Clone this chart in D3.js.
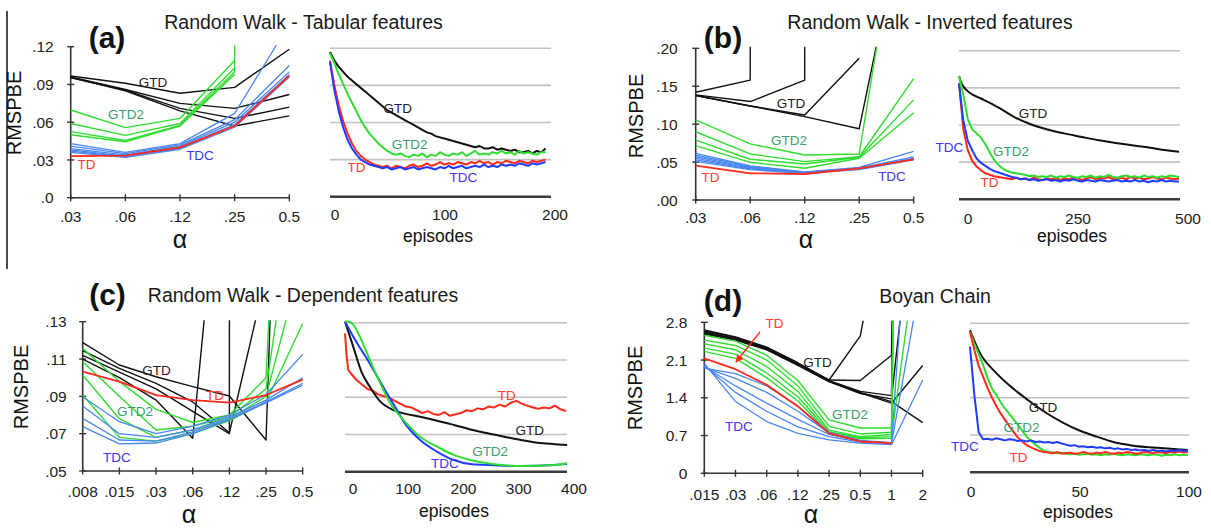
<!DOCTYPE html>
<html><head><meta charset="utf-8">
<script src="https://cdn.jsdelivr.net/npm/d3@7"></script>
<style>
html,body{margin:0;padding:0;background:#fff;}
svg{display:block;font-family:"Liberation Sans",Arial,Helvetica,sans-serif;}
</style></head><body>
<svg id="chart" width="1211" height="528"></svg>
<script>
// ================= DATA =================
// (a) Random Walk - Tabular features
const alphasA = [".03", ".06", ".12", ".25", "0.5"];
const yTicksA = [0, 0.03, 0.06, 0.09, 0.12];
const yTickLabelsA = [".0", ".03", ".06", ".09", ".12"];
const aGTD = [
  [0.0967, 0.091, 0.083, 0.0877, 0.118],
  [0.096, 0.086, 0.075, 0.071, 0.082],
  [0.0955, 0.0855, 0.071, 0.063, 0.072],
  [0.0955, 0.085, 0.069, 0.057, 0.065]
];
const aGTD2 = [
  [0.0697, 0.0557, 0.063, 0.109, null],
  [0.059, 0.0495, 0.059, 0.103, null],
  [0.0525, 0.0455, 0.0575, 0.100, 40],
  [0.050, 0.0445, 0.057, 0.098, null]
];
const aTDC = [
  [0.043, 0.036, 0.043, 0.067, 0.138],
  [0.041, 0.035, 0.042, 0.062, 0.105],
  [0.039, 0.034, 0.041, 0.060, 0.100],
  [0.038, 0.033, 0.040, 0.058, 0.098],
  [0.037, 0.0325, 0.039, 0.057, 0.097],
  [0.036, 0.032, 0.0385, 0.056, 0.096]
];
const aTD = [[0.033, 0.0335, 0.040, 0.057, 0.097]];

const epTicksA = [0, 100, 200];
const epsA = d3.range(0, 200, 4);
const aCurveGTD = [0.117,0.110,0.105,0.101,0.097,0.094,0.091,0.088,0.085,0.082,
  0.079,0.076,0.073,0.070,0.068,0.066,0.064,0.062,0.060,0.058,
  0.056,0.054,0.052,0.051,0.049,0.048,0.047,0.046,0.045,0.044,
  0.043,0.042,0.041,0.040,0.041,0.039,0.039,0.040,0.038,0.039,
  0.038,0.037,0.038,0.036,0.036,0.037,0.035,0.037,0.036,0.039];
const aCurveGTD2 = [0.116,0.108,0.099,0.091,0.083,0.076,0.069,0.062,0.056,0.051,
  0.047,0.043,0.040,0.037,0.035,0.034,0.035,0.033,0.032,0.034,
  0.033,0.035,0.032,0.034,0.033,0.036,0.034,0.033,0.035,0.034,
  0.036,0.033,0.035,0.037,0.034,0.035,0.034,0.036,0.035,0.037,
  0.035,0.036,0.034,0.037,0.035,0.036,0.035,0.034,0.036,0.036];
const aCurveTD = [0.110,0.090,0.074,0.061,0.051,0.043,0.037,0.033,0.030,0.028,
  0.026,0.025,0.024,0.025,0.023,0.025,0.024,0.023,0.025,0.026,
  0.024,0.025,0.027,0.025,0.026,0.028,0.026,0.027,0.026,0.028,
  0.027,0.026,0.028,0.027,0.029,0.027,0.028,0.026,0.028,0.027,
  0.029,0.028,0.027,0.029,0.028,0.027,0.029,0.028,0.029,0.030];
const aCurveTDC = [0.109,0.086,0.069,0.056,0.046,0.039,0.034,0.030,0.028,0.026,
  0.025,0.024,0.023,0.024,0.022,0.023,0.024,0.022,0.023,0.024,
  0.022,0.023,0.024,0.023,0.022,0.024,0.023,0.025,0.023,0.024,
  0.025,0.023,0.024,0.025,0.024,0.026,0.024,0.025,0.024,0.026,
  0.025,0.026,0.025,0.027,0.026,0.025,0.027,0.026,0.027,0.028];

// (b) Random Walk - Inverted features
const alphasB = [".03", ".06", ".12", ".25", "0.5"];
const yTicksB = [0, 0.05, 0.10, 0.15, 0.20];
const yTickLabelsB = [".00", ".05", ".10", ".15", ".20"];
const bGTD = [
  [0.142, 0.158, 50, null, null],
  [0.1386, 0.1298, 0.158, 50, null],
  [0.1377, 0.124, 0.112, 0.187, null],
  [0.1377, 0.124, 0.110, 0.094, 0.44]
];
const bGTD2 = [
  [0.1056, 0.074, 0.0594, 0.0607, 0.50],
  [0.090, 0.0607, 0.0506, 0.057, 0.16],
  [0.079, 0.0537, 0.0475, 0.0563, 0.132],
  [0.0717, 0.0497, 0.0418, 0.055, 0.115]
];
const bTDC = [
  [0.0616, 0.045, 0.037, 0.043, 0.064],
  [0.059, 0.044, 0.0365, 0.042, 0.057],
  [0.057, 0.043, 0.036, 0.042, 0.055],
  [0.055, 0.042, 0.0355, 0.041, 0.054],
  [0.053, 0.041, 0.035, 0.041, 0.0535],
  [0.051, 0.040, 0.035, 0.040, 0.053]
];
const bTD = [[0.0453, 0.0352, 0.0343, 0.0418, 0.0537]];

const epTicksB = [0, 250, 500];
const epsB = d3.range(0, 501, 10);
const bCurveGTDeps = [0, 5, 11, 25, 49, 87, 125, 163, 201, 239, 277, 315, 352, 390, 428, 466, 500];
const bCurveGTD = [0.166, 0.157, 0.151, 0.143, 0.136, 0.1245, 0.111, 0.101, 0.094, 0.0887, 0.0842, 0.0797, 0.0762, 0.073, 0.070, 0.0663, 0.064];
const bCurveGTD2 = [0.166,0.140,0.108,0.094,0.089,0.083,0.074,0.063,0.053,0.046,
  0.041,0.038,0.036,0.035,0.034,0.033,0.031,0.032,0.030,0.031,
  0.030,0.032,0.029,0.031,0.030,0.032,0.030,0.029,0.031,0.030,
  0.032,0.029,0.031,0.030,0.033,0.030,0.029,0.031,0.032,0.030,
  0.031,0.029,0.032,0.030,0.031,0.029,0.031,0.030,0.032,0.031,0.030];
const bCurveTD = [0.156,0.094,0.066,0.052,0.044,0.039,0.035,0.033,0.031,0.030,
  0.029,0.028,0.027,0.029,0.027,0.028,0.026,0.029,0.027,0.026,
  0.028,0.027,0.029,0.026,0.028,0.027,0.029,0.028,0.026,0.028,
  0.030,0.027,0.029,0.028,0.030,0.027,0.028,0.029,0.027,0.030,
  0.028,0.029,0.027,0.028,0.030,0.028,0.027,0.029,0.028,0.027,0.028];
const bCurveTDC = [0.156,0.105,0.079,0.066,0.055,0.049,0.045,0.041,0.038,0.036,
  0.034,0.032,0.030,0.029,0.027,0.028,0.026,0.027,0.025,0.026,
  0.027,0.025,0.026,0.024,0.026,0.025,0.027,0.025,0.024,0.026,
  0.025,0.024,0.026,0.025,0.024,0.025,0.026,0.024,0.025,0.024,
  0.026,0.024,0.025,0.023,0.025,0.024,0.026,0.024,0.025,0.024,0.024];

// (c) Random Walk - Dependent features
const alphasC = [".008", ".015", ".03", ".06", ".12", ".25", "0.5"];
const yTicksC = [0.05, 0.07, 0.09, 0.11, 0.13];
const yTickLabelsC = [".05", ".07", ".09", ".11", ".13"];
const cGTD = [
  [0.110, 0.100, 0.088, 0.0675, 0.27, null, null],
  [0.112, 0.103, 0.094, 0.082, 0.070, 50, null],
  [0.1145, 0.105, 0.097, 0.087, 0.0705, 0.155, null],
  [0.1188, 0.1068, 0.1005, 0.0952, 0.0902, 0.0666, 0.65]
];
const cGTD2 = [
  [0.1157, 0.098, 0.083, 0.076, 0.080, 0.100, 0.50],
  [0.1086, 0.090, 0.072, 0.074, 0.079, 0.094, 0.227],
  [0.1014, 0.078, 0.068, 0.072, 0.078, 0.090, 0.165],
  [0.0907, 0.068, 0.066, 0.070, 0.077, 0.087, 0.129]
];
const cTDC = [
  [0.0898, 0.0764, 0.0700, 0.074, 0.080, 0.091, 0.1125],
  [0.0848, 0.0700, 0.0680, 0.072, 0.079, 0.088, 0.100],
  [0.0782, 0.0666, 0.0660, 0.071, 0.078, 0.087, 0.097],
  [0.0738, 0.0645, 0.0650, 0.070, 0.0775, 0.0865, 0.096]
];
const cTD = [[0.1032, 0.0979, 0.0907, 0.088, 0.0866, 0.0907, 0.099]];

const epTicksC = [0, 100, 200, 300, 400];
const cCurveGTDeps = [0, 15, 30, 45, 64, 88, 106, 136, 167, 197, 227, 258, 288, 318, 348, 379, 402];
const cCurveGTD = [0.1306, 0.117, 0.1035, 0.0956, 0.0876, 0.0831, 0.0813, 0.0795, 0.0774, 0.0751, 0.0727, 0.0706, 0.0688, 0.067, 0.0656, 0.0648, 0.0643];
const cCurveTDCeps = [0, 15, 45, 76, 94, 106, 136, 167, 197, 227, 258, 288, 318, 379, 402];
const cCurveTDC = [0.1306, 0.1225, 0.108, 0.092, 0.0831, 0.077, 0.067, 0.0607, 0.0563, 0.0541, 0.0536, 0.0532, 0.053, 0.0536, 0.0541];
const cCurveGTD2eps = [0, 5, 15, 27, 45, 64, 82, 106, 136, 167, 197, 227, 258, 288, 318, 379, 402];
const cCurveGTD2 = [0.1306, 0.1306, 0.1290, 0.1225, 0.110, 0.0974, 0.0867, 0.0777, 0.0688, 0.0634, 0.059, 0.0563, 0.0545, 0.0534, 0.053, 0.0536, 0.0545];
const cCurveTDeps = [0, 3, 6].concat(d3.range(10, 401, 10));
const cCurveTD = [0.1243, 0.112, 0.1046,
  0.1030,0.0995,0.0970,0.0945,0.0935,0.0915,0.0905,0.0898,0.0880,0.0865,
  0.0850,0.0845,0.0830,0.0815,0.0825,0.0810,0.0805,0.0820,0.0800,0.0808,
  0.0815,0.0830,0.0825,0.0840,0.0835,0.0850,0.0845,0.0860,0.0850,0.0870,
  0.0880,0.0865,0.0855,0.0845,0.0838,0.0845,0.0840,0.0855,0.0835,0.0825];

// (d) Boyan Chain
const alphasD = [".015", ".03", ".06", ".12", ".25", "0.5", "1", "2"];
const yTicksD = [0, 0.7, 1.4, 2.1, 2.8];
const yTickLabelsD = ["0", "0.7", "1.4", "2.1", "2.8"];
const dGTD = [
  [2.66, 2.53, 2.34, 2.05, 1.73, 2.55, 5.6, null],
  [2.64, 2.52, 2.33, 2.04, 1.73, 1.72, 2.19, 40],
  [2.62, 2.50, 2.32, 2.03, 1.72, 1.52, 1.44, 40],
  [2.61, 2.49, 2.31, 2.02, 1.71, 1.50, 1.33, 0.94],
  [2.60, 2.48, 2.30, 2.01, 1.70, 1.49, 1.30, 2.0],
  [2.58, 2.47, 2.29, 2.00, 1.70, 1.48, 1.38, 6.7]
];
const dGTD2 = [
  [2.56, 2.45, 2.19, 1.72, 0.99, 0.84, 0.84, 40],
  [2.47, 2.37, 2.10, 1.62, 0.87, 0.73, 0.76, 40],
  [2.40, 2.29, 1.98, 1.52, 0.80, 0.68, 0.72, 40],
  [2.32, 2.21, 1.86, 1.42, 0.77, 0.66, 0.68, 4.95],
  [2.26, 2.13, 1.77, 1.34, 0.74, 0.64, 0.65, 40]
];
const dTDC = [
  [2.04, 1.33, 0.96, 0.74, 0.62, 0.56, 0.53, 1.73],
  [2.00, 1.50, 1.15, 0.86, 0.68, 0.58, 0.55, 3.8],
  [1.98, 1.62, 1.30, 1.00, 0.72, 0.59, 0.55, 8.9],
  [1.96, 1.76, 1.50, 1.15, 0.75, 0.60, 0.56, null],
  [1.95, 1.85, 1.62, 1.25, 0.76, 0.61, 0.57, null]
];
const dTD = [[2.13, 1.93, 1.64, 1.24, 0.74, 0.59, 0.56, null]];

const epTicksD = [0, 50, 100];
const epsD = d3.range(0, 101, 2);
const dCurveGTDeps = [0, 4.6, 12.2, 19.9, 27.5, 35.2, 42.8, 50.5, 58.1, 65.7, 73.4, 88.7, 100];
const dCurveGTD = [2.67, 2.24, 1.86, 1.57, 1.33, 1.11, 0.93, 0.78, 0.67, 0.57, 0.51, 0.45, 0.42];
const dCurveGTD2 = [2.64,2.42,2.22,2.02,1.78,1.58,1.46,1.32,1.20,1.10,
  1.00,0.89,0.78,0.67,0.59,0.52,0.46,0.41,0.38,0.37,
  0.36,0.37,0.35,0.34,0.35,0.33,0.34,0.35,0.33,0.34,
  0.32,0.34,0.33,0.35,0.33,0.32,0.34,0.33,0.32,0.34,
  0.33,0.32,0.34,0.33,0.31,0.33,0.32,0.34,0.32,0.33,0.32];
const dCurveTD = [2.64,2.30,2.00,1.80,1.59,1.41,1.25,1.11,0.99,0.87,
  0.76,0.65,0.58,0.51,0.47,0.43,0.40,0.38,0.37,0.36,
  0.38,0.35,0.36,0.37,0.35,0.36,0.38,0.36,0.35,0.37,
  0.36,0.38,0.36,0.35,0.37,0.36,0.38,0.37,0.35,0.36,
  0.38,0.37,0.36,0.38,0.37,0.36,0.38,0.37,0.39,0.37,0.38];
const dCurveTDC = [2.36,1.45,0.75,0.62,0.63,0.61,0.64,0.62,0.60,0.62,
  0.61,0.59,0.60,0.58,0.60,0.57,0.58,0.56,0.57,0.55,
  0.57,0.54,0.52,0.50,0.51,0.48,0.49,0.47,0.48,0.46,
  0.47,0.45,0.46,0.44,0.45,0.43,0.44,0.42,0.43,0.41,
  0.42,0.40,0.42,0.40,0.41,0.39,0.41,0.40,0.42,0.40,0.41];

// ================= STYLE =================
const COL = {
  gtd: "#111111", gtd2: "#2fdc2f", tdc: "#4a86f0", tdcCurve: "#1f3cff", td: "#ff2a1a",
  lGTD: "#222222", lGTD2: "#3a9e6e", lTD: "#ff3b30", lTDC: "#4433ee"
};

const svg = d3.select("#chart");
svg.append("rect").attr("width", 1211).attr("height", 528).attr("fill", "#fff");
const defs = svg.append("defs");
defs.append("marker").attr("id", "arrowRed").attr("viewBox", "0 0 10 10")
  .attr("refX", 9).attr("refY", 5).attr("markerWidth", 6).attr("markerHeight", 6)
  .attr("orient", "auto-start-reverse")
  .append("path").attr("d", "M0,0 L10,5 L0,10 z").attr("fill", COL.td);

function addLabel(g, x, y, lab) {
  g.append("text").attr("x", x(lab[1])).attr("y", y(lab[2])).attr("dy", "0.35em")
    .attr("text-anchor", "middle").attr("font-size", 13.5).attr("fill", lab[3]).text(lab[0]);
}

function alphaPanel(c) {
  const n = c.alphas.length;
  const x = d3.scaleLinear().domain([0, n - 1]).range(c.xRange);
  const y = d3.scaleLinear().domain([c.yTicks[0], c.yTicks[c.yTicks.length - 1]]).range(c.yRange);
  const g = svg.append("g");
  defs.append("clipPath").attr("id", "clip" + c.id).append("rect")
    .attr("x", c.xRange[0] - 1).attr("y", c.yRange[1] - 1.5)
    .attr("width", c.xRange[1] - c.xRange[0] + 4).attr("height", c.yRange[0] - c.yRange[1] + 1.5);
  // axes
  g.append("line").attr("x1", c.xRange[0]).attr("x2", c.xRange[1]).attr("y1", c.yRange[0]).attr("y2", c.yRange[0])
    .attr("stroke", "#333").attr("stroke-width", 1.6);
  g.append("line").attr("x1", c.xRange[0]).attr("x2", c.xRange[0]).attr("y1", c.yRange[0]).attr("y2", c.yRange[1])
    .attr("stroke", "#333").attr("stroke-width", 1.6);
  c.yTicks.forEach((t, i) => {
    g.append("line").attr("x1", c.xRange[0] - 3.5).attr("x2", c.xRange[0] + 3.5).attr("y1", y(t)).attr("y2", y(t))
      .attr("stroke", "#333").attr("stroke-width", 1.4);
    g.append("text").attr("x", c.xRange[0] - c.tickGap).attr("y", y(t)).attr("dy", "0.36em")
      .attr("text-anchor", "end").attr("font-size", 15.5).attr("fill", "#222").text(c.yTickLabels[i]);
  });
  c.alphas.forEach((a, i) => {
    g.append("line").attr("x1", x(i)).attr("x2", x(i)).attr("y1", c.yRange[0] - 3.5).attr("y2", c.yRange[0] + 3.5)
      .attr("stroke", "#333").attr("stroke-width", 1.4);
    g.append("text").attr("x", x(i)).attr("y", c.xLabelY).attr("text-anchor", "middle")
      .attr("font-size", 15.5).attr("fill", "#222").text(a);
  });
  // axis titles
  g.append("text").attr("transform", `translate(${c.ylab[0]},${c.ylab[1]}) rotate(-90)`)
    .attr("text-anchor", "middle").attr("font-size", 20).attr("fill", "#111").text("RMSPBE");
  g.append("text").attr("x", c.alab[0]).attr("y", c.alab[1]).attr("text-anchor", "middle")
    .attr("font-size", 25).attr("fill", "#111").text("α");
  // lines
  const line = d3.line().defined(d => d[1] != null).x(d => x(d[0])).y(d => y(d[1]));
  const lg = g.append("g").attr("clip-path", `url(#clip${c.id})`);
  c.series.forEach(s => {
    s.lines.forEach(vals => {
      lg.append("path").attr("d", line(vals.map((v, i) => [i, v])))
        .attr("fill", "none").attr("stroke", s.color).attr("stroke-width", s.width)
        .attr("stroke-linejoin", "round");
    });
  });
  c.labels.forEach(l => addLabel(g, x, y, l));
  if (c.arrow) {
    g.append("line").attr("x1", x(c.arrow[0][0])).attr("y1", y(c.arrow[0][1]))
      .attr("x2", x(c.arrow[1][0])).attr("y2", y(c.arrow[1][1]))
      .attr("stroke", COL.td).attr("stroke-width", 1.3).attr("marker-end", "url(#arrowRed)");
  }
}

function curvePanel(c) {
  const x = d3.scaleLinear().domain(c.xDomain).range(c.xRange);
  const y = d3.scaleLinear().domain([c.yTicks[0], c.yTicks[c.yTicks.length - 1]]).range(c.yRange);
  const g = svg.append("g");
  c.yTicks.slice(1).forEach(t => {
    g.append("line").attr("x1", c.xRange[0]).attr("x2", c.xRange[1] + 1).attr("y1", y(t)).attr("y2", y(t))
      .attr("stroke", "#c2c2c2").attr("stroke-width", 1.6);
  });
  g.append("line").attr("x1", c.xRange[0]).attr("x2", c.xRange[1] + 1)
    .attr("y1", y(c.yTicks[0])).attr("y2", y(c.yTicks[0]))
    .attr("stroke", "#3c3c3c").attr("stroke-width", 2.6);
  c.xTicks.forEach(t => {
    g.append("text").attr("x", x(t) + c.tickDx).attr("y", c.xLabelY).attr("text-anchor", "middle")
      .attr("font-size", 15.5).attr("fill", "#222").text(t);
  });
  g.append("text").attr("x", c.eplab[0]).attr("y", c.eplab[1]).attr("text-anchor", "middle")
    .attr("font-size", 17.5).attr("fill", "#111").text("episodes");
  c.series.forEach(s => {
    const line = d3.line().x(d => x(d[0])).y(d => y(d[1]))
      .curve(s.smooth ? d3.curveMonotoneX : d3.curveLinear);
    g.append("path").attr("d", line(s.eps.map((e, i) => [e, s.vals[i]])))
      .attr("fill", "none").attr("stroke", s.color).attr("stroke-width", 2)
      .attr("stroke-linejoin", "round");
  });
  c.labels.forEach(l => addLabel(g, x, y, l));
}

function heading(letter, lx, ly, title, tx, ty) {
  svg.append("text").attr("x", lx).attr("y", ly).attr("text-anchor", "middle")
    .attr("font-size", 30).attr("font-weight", "bold").attr("fill", "#111").text(letter);
  svg.append("text").attr("x", tx).attr("y", ty).attr("text-anchor", "middle")
    .attr("font-size", 19.5).attr("fill", "#1a1a1a").text(title);
}

// left border line
svg.append("line").attr("x1", 7).attr("x2", 7).attr("y1", 11).attr("y2", 269)
  .attr("stroke", "#111").attr("stroke-width", 1.5);

// ---------- (a) ----------
heading("(a)", 107, 47.5, "Random Walk - Tabular features", 303.5, 28.5);
alphaPanel({
  id: "A", alphas: alphasA, yTicks: yTicksA, yTickLabels: yTickLabelsA,
  xRange: [70.7, 289.3], yRange: [197.7, 46.7], tickGap: 17, xLabelY: 222,
  ylab: [21, 113], alab: [180, 248],
  series: [
    { lines: aGTD, color: COL.gtd, width: 1.4 },
    { lines: aGTD2, color: COL.gtd2, width: 1.4 },
    { lines: aTDC, color: COL.tdc, width: 1.3 },
    { lines: aTD, color: COL.td, width: 1.8 }
  ],
  labels: [["GTD", 1.506, 0.0919, COL.lGTD], ["GTD2", 1.012, 0.0661, COL.lGTD2],
           ["TDC", 2.366, 0.0339, COL.lTDC], ["TD", 0.289, 0.0264, COL.lTD]]
});
curvePanel({
  xDomain: [0, 200], xRange: [330, 550], yTicks: yTicksA, yRange: [196.7, 48.3],
  xTicks: epTicksA, tickDx: 5, xLabelY: 220, eplab: [438, 242],
  series: [
    { eps: epsA, vals: aCurveGTD, color: COL.gtd },
    { eps: epsA, vals: aCurveGTD2, color: COL.gtd2 },
    { eps: epsA, vals: aCurveTD, color: COL.td },
    { eps: epsA, vals: aCurveTDC, color: COL.tdcCurve }
  ],
  labels: [["GTD", 61.5, 0.0717, COL.lGTD], ["GTD2", 72.4, 0.0426, COL.lGTD2],
           ["TD", 24, 0.0236, COL.lTD], ["TDC", 121.3, 0.0155, COL.lTDC]]
});

// ---------- (b) ----------
heading("(b)", 723, 47.5, "Random Walk - Inverted features", 930, 28.5);
alphaPanel({
  id: "B", alphas: alphasB, yTicks: yTicksB, yTickLabels: yTickLabelsB,
  xRange: [695.7, 913.7], yRange: [200, 48.3], tickGap: 18, xLabelY: 222.7,
  ylab: [643, 116], alab: [806, 248],
  series: [
    { lines: bGTD, color: COL.gtd, width: 1.4 },
    { lines: bGTD2, color: COL.gtd2, width: 1.4 },
    { lines: bTDC, color: COL.tdc, width: 1.3 },
    { lines: bTD, color: COL.td, width: 1.8 }
  ],
  labels: [["GTD", 1.749, 0.1279, COL.lGTD], ["GTD2", 1.712, 0.0784, COL.lGTD2],
           ["TD", 0.272, 0.0303, COL.lTD], ["TDC", 3.602, 0.0316, COL.lTDC]]
});
curvePanel({
  xDomain: [0, 500], xRange: [959, 1179], yTicks: yTicksB, yRange: [199.3, 50.7],
  xTicks: epTicksB, tickDx: 9, xLabelY: 224, eplab: [1072, 242],
  series: [
    { eps: bCurveGTDeps, vals: bCurveGTD, color: COL.gtd, smooth: true },
    { eps: epsB, vals: bCurveTD, color: COL.td },
    { eps: epsB, vals: bCurveTDC, color: COL.tdcCurve },
    { eps: epsB, vals: bCurveGTD2, color: COL.gtd2 }
  ],
  labels: [["GTD", 168, 0.1161, COL.lGTD], ["GTD2", 118, 0.065, COL.lGTD2],
           ["TDC", -21.6, 0.0703, COL.lTDC], ["TD", 69.3, 0.0233, COL.lTD]]
});

// ---------- (c) ----------
heading("(c)", 107.5, 305, "Random Walk - Dependent features", 303, 301.5);
alphaPanel({
  id: "C", alphas: alphasC, yTicks: yTicksC, yTickLabels: yTickLabelsC,
  xRange: [82.7, 302.7], yRange: [471, 321.7], tickGap: 16, xLabelY: 497,
  ylab: [28, 387], alab: [189, 523],
  series: [
    { lines: cGTD, color: COL.gtd, width: 1.4 },
    { lines: cGTD2, color: COL.gtd2, width: 1.4 },
    { lines: cTDC, color: COL.tdc, width: 1.3 },
    { lines: cTD, color: COL.td, width: 1.8 }
  ],
  labels: [["GTD", 2.013, 0.1041, COL.lGTD], ["TD", 3.608, 0.0907, COL.lTD],
           ["GTD2", 1.426, 0.0822, COL.lGTD2], ["TDC", 0.935, 0.0575, COL.lTDC]]
});
curvePanel({
  xDomain: [0, 400], xRange: [345, 566], yTicks: yTicksC, yRange: [471.7, 322.7],
  xTicks: epTicksC, tickDx: 8, xLabelY: 494, eplab: [454, 517],
  series: [
    { eps: cCurveTDeps, vals: cCurveTD, color: COL.td },
    { eps: cCurveGTDeps, vals: cCurveGTD, color: COL.gtd, smooth: true },
    { eps: cCurveTDCeps, vals: cCurveTDC, color: COL.tdcCurve, smooth: true },
    { eps: cCurveGTD2eps, vals: cCurveGTD2, color: COL.gtd2, smooth: true }
  ],
  labels: [["TD", 292.7, 0.0912, COL.lTD], ["GTD", 334.5, 0.0724, COL.lGTD],
           ["GTD2", 262.7, 0.0611, COL.lGTD2], ["TDC", 180.9, 0.0547, COL.lTDC]]
});

// ---------- (d) ----------
heading("(d)", 723, 311, "Boyan Chain", 935, 303);
alphaPanel({
  id: "D", alphas: alphasD, yTicks: yTicksD, yTickLabels: yTickLabelsD,
  xRange: [704.3, 922.7], yRange: [473.3, 322.3], tickGap: 17, xLabelY: 499.5,
  ylab: [642, 388], alab: [811, 523],
  series: [
    { lines: dGTD, color: COL.gtd, width: 1.4 },
    { lines: dGTD2, color: COL.gtd2, width: 1.4 },
    { lines: dTDC, color: COL.tdc, width: 1.3 },
    { lines: dTD, color: COL.td, width: 1.8 }
  ],
  labels: [["TD", 2.25, 2.787, COL.lTD], ["GTD", 3.628, 2.064, COL.lGTD],
           ["GTD2", 4.67, 1.10, COL.lGTD2], ["TDC", 1.112, 0.877, COL.lTDC]],
  arrow: [[1.785, 2.62], [1.016, 2.064]]
});
curvePanel({
  xDomain: [0, 100], xRange: [970, 1188], yTicks: yTicksD, yRange: [472.3, 323.3],
  xTicks: epTicksD, tickDx: 1, xLabelY: 497, eplab: [1078, 518],
  series: [
    { eps: dCurveGTDeps, vals: dCurveGTD, color: COL.gtd, smooth: true },
    { eps: epsD, vals: dCurveGTD2, color: COL.gtd2 },
    { eps: epsD, vals: dCurveTD, color: COL.td },
    { eps: epsD, vals: dCurveTDC, color: COL.tdcCurve }
  ],
  labels: [["GTD", 33.5, 1.227, COL.lGTD], ["GTD2", 23.6, 0.851, COL.lGTD2],
           ["TDC", -2.3, 0.494, COL.lTDC], ["TD", 22.2, 0.288, COL.lTD]]
});
</script>
</body></html>
